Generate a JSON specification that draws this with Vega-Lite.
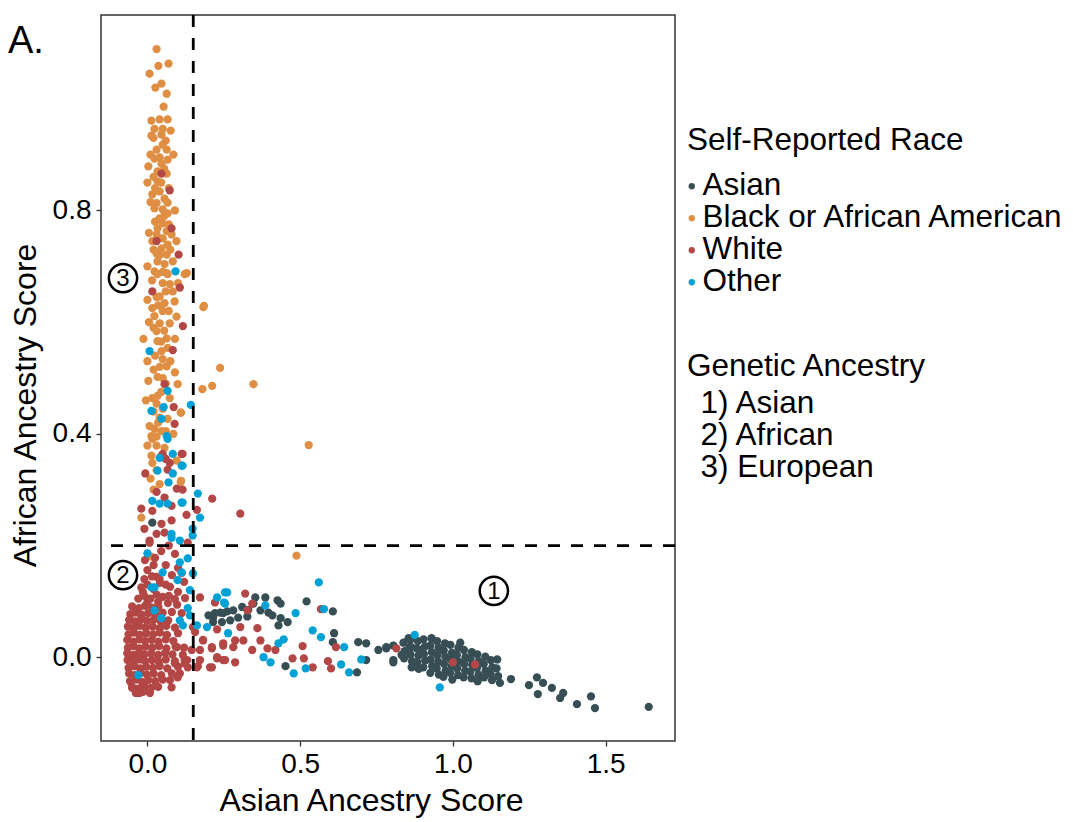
{
  "$schema": "https://vega.github.io/schema/vega-lite/v6.json",
  "width": 574,
  "height": 726,
  "autosize": "none",
  "padding": {"left": 101, "top": 15, "right": 398, "bottom": 81},
  "background": "white",
  "title": {"text": "A.", "anchor": "start", "frame": "group", "font": "Liberation Sans", "fontSize": 38, "fontWeight": "normal", "color": "black", "baseline": "alphabetic", "dx": -93, "dy": 77, "offset": 0},
  "config": {
    "view": {"stroke": "#333333", "strokeWidth": 1.5},
    "axis": {"domain": false, "grid": false, "ticks": true, "tickColor": "#333333", "tickSize": 5, "tickWidth": 1.3, "labelFont": "Liberation Sans", "labelFontSize": 28, "labelColor": "black", "titleFont": "Liberation Sans", "titleFontSize": 32, "titleFontWeight": "normal", "titleColor": "black"},
    "legend": {"titleFont": "Liberation Sans", "labelFont": "Liberation Sans", "titleFontSize": 31.5, "labelFontSize": 31.5, "titleFontWeight": "normal", "titleColor": "black", "labelColor": "black", "symbolSize": 40, "symbolType": "circle", "rowPadding": -1, "titlePadding": 6, "labelLimit": 600, "titleLimit": 600}
  },
  "datasets": {
    "asian": [
      {"x":0.221,"y":0.079},{"x":0.238,"y":0.08},{"x":0.215,"y":0.071},{"x":0.261,"y":0.082},{"x":0.248,"y":0.079},{"x":0.281,"y":0.084},{"x":0.215,"y":0.063},{"x":0.244,"y":0.063},{"x":0.271,"y":0.066},{"x":0.297,"y":0.071},{"x":0.327,"y":0.073},{"x":0.353,"y":0.107},{"x":0.386,"y":0.107},{"x":0.347,"y":0.096},{"x":0.37,"y":0.084},{"x":0.396,"y":0.08},{"x":0.426,"y":0.102},{"x":0.436,"y":0.096},{"x":0.521,"y":0.1},{"x":0.409,"y":0.075},{"x":0.436,"y":0.07},{"x":0.459,"y":0.063},{"x":0.429,"y":0.057},{"x":0.607,"y":0.082},{"x":0.611,"y":0.043},{"x":0.607,"y":0.027},{"x":0.69,"y":0.027},{"x":0.716,"y":0.025},{"x":0.452,"y":-0.016},{"x":0.686,"y":-0.027},{"x":0.716,"y":-0.005},{"x":0.756,"y":0.013},{"x":0.782,"y":0.016},{"x":0.805,"y":0.021},{"x":0.858,"y":0.018},{"x":0.855,"y":0.034},{"x":0.805,"y":-0.005},{"x":0.832,"y":0.004},{"x":0.865,"y":-0.018},{"x":0.898,"y":0.013},{"x":0.016,"y":0.241},{"x":0.31,"y":0.09},{"x":0.33,"y":0.085},{"x":0.2,"y":0.075},{"x":0.782,"y":0.018},{"x":0.805,"y":-0.009},
      {"x":0.838,"y":0.026},{"x":0.842,"y":0.011},{"x":0.84,"y":-0.002},
      {"x":0.86,"y":0.031},{"x":0.864,"y":0.018},{"x":0.861,"y":0.005},{"x":0.866,"y":-0.007},
      {"x":0.885,"y":0.029},{"x":0.882,"y":0.016},{"x":0.887,"y":0.003},{"x":0.883,"y":-0.009},{"x":0.888,"y":-0.021},
      {"x":0.904,"y":0.032},{"x":0.908,"y":0.019},{"x":0.905,"y":0.006},{"x":0.909,"y":-0.006},{"x":0.903,"y":-0.018},
      {"x":0.93,"y":0.034},{"x":0.926,"y":0.021},{"x":0.931,"y":0.009},{"x":0.927,"y":-0.004},{"x":0.932,"y":-0.016},{"x":0.926,"y":-0.028},
      {"x":0.948,"y":0.029},{"x":0.953,"y":0.017},{"x":0.949,"y":0.004},{"x":0.952,"y":-0.008},{"x":0.947,"y":-0.02},{"x":0.954,"y":-0.031},
      {"x":0.974,"y":0.025},{"x":0.97,"y":0.012},{"x":0.975,"y":0.001},{"x":0.971,"y":-0.012},{"x":0.976,"y":-0.024},{"x":0.969,"y":-0.035},
      {"x":0.992,"y":0.022},{"x":0.997,"y":0.008},{"x":0.993,"y":-0.004},{"x":0.996,"y":-0.016},{"x":0.991,"y":-0.028},{"x":0.998,"y":-0.04},
      {"x":1.018,"y":0.017},{"x":1.013,"y":0.004},{"x":1.019,"y":-0.008},{"x":1.014,"y":-0.02},{"x":1.017,"y":-0.032},{"x":1.024,"y":0.026},
      {"x":1.036,"y":0.013},{"x":1.041,"y":0.0},{"x":1.037,"y":-0.012},{"x":1.04,"y":-0.024},{"x":1.035,"y":-0.036},
      {"x":1.062,"y":0.009},{"x":1.058,"y":-0.003},{"x":1.063,"y":-0.014},{"x":1.057,"y":-0.026},{"x":1.061,"y":-0.038},
      {"x":1.08,"y":0.005},{"x":1.085,"y":-0.007},{"x":1.079,"y":-0.019},{"x":1.084,"y":-0.031},{"x":1.081,"y":-0.043},
      {"x":1.106,"y":0.001},{"x":1.101,"y":-0.012},{"x":1.107,"y":-0.024},{"x":1.102,"y":-0.036},
      {"x":1.124,"y":-0.005},{"x":1.129,"y":-0.018},{"x":1.123,"y":-0.03},{"x":1.128,"y":-0.041},
      {"x":1.145,"y":-0.004},{"x":1.143,"y":-0.02},{"x":1.148,"y":-0.034},
      {"x":1.154,"y":-0.046},{"x":1.19,"y":-0.039},{"x":1.249,"y":-0.05},{"x":1.275,"y":-0.036},{"x":1.295,"y":-0.046},{"x":1.324,"y":-0.055},{"x":1.278,"y":-0.066},{"x":1.361,"y":-0.064},{"x":1.351,"y":-0.073},{"x":1.406,"y":-0.084},{"x":1.452,"y":-0.07},{"x":1.465,"y":-0.091},{"x":1.641,"y":-0.089}
    ],
    "black": [
      {"x":0.03,"y":1.089},{"x":0.036,"y":1.059},{"x":0.069,"y":1.063},{"x":0.007,"y":1.045},{"x":0.046,"y":1.027},{"x":0.026,"y":1.02},{"x":0.063,"y":1.009},{"x":0.053,"y":0.986},{"x":0.013,"y":0.961},{"x":0.04,"y":0.963},{"x":0.066,"y":0.963},{"x":0.023,"y":0.946},{"x":0.05,"y":0.946},{"x":0.076,"y":0.943},{"x":0.013,"y":0.934},{"x":0.046,"y":0.936},{"x":0.05,"y":0.918},{"x":0.03,"y":0.909},{"x":0.063,"y":0.909},{"x":0.023,"y":0.893},{"x":0.066,"y":0.891},{"x":0.003,"y":0.879},{"x":0.046,"y":0.884},{"x":0.033,"y":0.87},{"x":0.063,"y":0.866},{"x":0.033,"y":0.852},{"x":0.016,"y":0.829},{"x":0.04,"y":0.834},{"x":0.056,"y":0.821},{"x":0.03,"y":0.813},{"x":0.066,"y":0.814},{"x":0.023,"y":0.804},{"x":0.05,"y":0.802},{"x":0.066,"y":0.795},{"x":0.04,"y":0.786},{"x":0.05,"y":0.777},{"x":0.033,"y":0.768},{"x":0.063,"y":0.763},{"x":0.03,"y":0.757},{"x":0.079,"y":0.757},{"x":0.05,"y":0.75},{"x":0.016,"y":0.745},{"x":0.066,"y":0.739},{"x":0.046,"y":0.732},{"x":0.03,"y":0.723},{"x":0.063,"y":0.721},{"x":0.083,"y":0.709},{"x":0.033,"y":0.709},{"x":0.056,"y":0.704},{"x":0.129,"y":0.688},{"x":0.023,"y":0.691},{"x":0.063,"y":0.688},{"x":0.033,"y":0.686},{"x":0.066,"y":0.686},{"x":0.122,"y":0.686},{"x":0.05,"y":0.67},{"x":0.073,"y":0.668},{"x":0.083,"y":0.655},{"x":0.04,"y":0.646},{"x":0.089,"y":0.637},{"x":0.056,"y":0.634},{"x":0.185,"y":0.629},{"x":0.016,"y":0.625},{"x":0.05,"y":0.62},{"x":0.023,"y":0.611},{"x":0.073,"y":0.598},{"x":0.04,"y":0.598},{"x":0.03,"y":0.584},{"x":0.063,"y":0.571},{"x":-0.013,"y":0.57},{"x":0.033,"y":0.566},{"x":0.046,"y":0.548},{"x":0.066,"y":0.554},{"x":0.05,"y":0.534},{"x":0.063,"y":0.521},{"x":0.238,"y":0.518},{"x":0.033,"y":0.502},{"x":0.05,"y":0.5},{"x":0.003,"y":0.495},{"x":0.099,"y":0.489},{"x":0.016,"y":0.464},{"x":0.033,"y":0.468},{"x":0.073,"y":0.464},{"x":0.03,"y":0.454},{"x":0.109,"y":0.438},{"x":0.04,"y":0.429},{"x":0.066,"y":0.427},{"x":0.007,"y":0.414},{"x":0.023,"y":0.409},{"x":0.046,"y":0.405},{"x":0.013,"y":0.396},{"x":0.016,"y":0.391},{"x":0.0,"y":0.379},{"x":0.03,"y":0.379},{"x":0.056,"y":0.375},{"x":0.013,"y":0.361},{"x":0.016,"y":0.348},{"x":0.096,"y":0.352},{"x":0.109,"y":0.314},{"x":-0.02,"y":0.25},{"x":0.183,"y":0.627},{"x":0.18,"y":0.48},{"x":0.212,"y":0.486},{"x":0.347,"y":0.489},{"x":0.11,"y":0.438},{"x":0.528,"y":0.38},{"x":0.11,"y":0.316},{"x":0.488,"y":0.182},{"x":0.013,"y":0.18},
      {"x":0.02,"y":0.93},{"x":0.06,"y":0.925},{"x":0.01,"y":0.9},{"x":0.04,"y":0.895},{"x":0.055,"y":0.875},{"x":0.02,"y":0.86},{"x":0.045,"y":0.85},{"x":0.07,"y":0.84},{"x":0.025,"y":0.84},{"x":0.01,"y":0.815},{"x":0.055,"y":0.79},{"x":0.025,"y":0.78},{"x":0.07,"y":0.775},{"x":0.02,"y":0.73},{"x":0.04,"y":0.72},{"x":0.075,"y":0.73},{"x":0.05,"y":0.69},{"x":0.015,"y":0.675},{"x":0.06,"y":0.655},{"x":0.03,"y":0.645},{"x":0.07,"y":0.62},{"x":0.035,"y":0.63},{"x":0.02,"y":0.59},{"x":0.055,"y":0.585},{"x":0.045,"y":0.565},{"x":0.025,"y":0.54},{"x":0.04,"y":0.52},{"x":0.02,"y":0.515},{"x":0.075,"y":0.53},{"x":0.06,"y":0.49},{"x":0.045,"y":0.475},{"x":0.02,"y":0.44},{"x":0.05,"y":0.445},{"x":0.035,"y":0.42},{"x":0.06,"y":0.405},{"x":0.03,"y":0.395},{"x":0.045,"y":0.36},{"x":0.03,"y":0.335},{"x":0.01,"y":0.32},{"x":0.04,"y":0.31},{"x":0.02,"y":0.3},
      {"x":0.085,"y":0.9},{"x":0.0,"y":0.85},{"x":0.09,"y":0.8},{"x":0.005,"y":0.76},{"x":0.095,"y":0.745},{"x":0.0,"y":0.7},{"x":0.1,"y":0.67},{"x":0.0,"y":0.64},{"x":0.095,"y":0.61},{"x":0.005,"y":0.6},{"x":0.09,"y":0.57},{"x":0.0,"y":0.53},{"x":0.09,"y":0.51},{"x":-0.005,"y":0.46},{"x":0.085,"y":0.4}
    ],
    "white": [
      {"x":0.046,"y":0.866},{"x":0.073,"y":0.836},{"x":0.079,"y":0.768},{"x":0.03,"y":0.745},{"x":0.102,"y":0.721},{"x":0.016,"y":0.655},{"x":0.106,"y":0.662},{"x":0.116,"y":0.593},{"x":0.083,"y":0.55},{"x":0.056,"y":0.489},{"x":0.086,"y":0.448},{"x":0.089,"y":0.418},{"x":0.05,"y":0.364},{"x":0.112,"y":0.364},{"x":0.073,"y":0.348},{"x":0.066,"y":0.336},{"x":-0.007,"y":0.329},{"x":0.03,"y":0.296},{"x":0.096,"y":0.302},{"x":0.115,"y":0.3},{"x":0.212,"y":0.284},{"x":0.056,"y":0.286},{"x":0.079,"y":0.271},{"x":-0.02,"y":0.266},{"x":0.016,"y":0.262},{"x":0.162,"y":0.264},{"x":0.128,"y":0.255},{"x":0.304,"y":0.257},{"x":0.046,"y":0.239},{"x":0.079,"y":0.245},{"x":-0.01,"y":0.23},{"x":0.03,"y":0.221},{"x":0.056,"y":0.223},{"x":0.007,"y":0.209},{"x":0.132,"y":0.205},{"x":0.115,"y":0.364},{"x":0.06,"y":0.355},
      {"x":0.007,"y":0.205},{"x":-0.008,"y":0.174},{"x":0.025,"y":0.178},{"x":0.0,"y":0.156},{"x":0.03,"y":0.144},{"x":0.08,"y":0.147},{"x":0.112,"y":0.151},{"x":-0.015,"y":0.117},{"x":0.041,"y":0.133},{"x":0.074,"y":0.126},{"x":0.1,"y":0.117},{"x":0.123,"y":0.106},{"x":0.0,"y":0.099},{"x":0.035,"y":0.099},{"x":0.067,"y":0.097},{"x":0.097,"y":0.094},{"x":0.08,"y":0.081},{"x":0.112,"y":0.079},{"x":0.156,"y":0.045},{"x":0.182,"y":0.031},{"x":0.097,"y":0.018},{"x":0.116,"y":0.004},{"x":0.09,"y":-0.011},{"x":0.132,"y":-0.018},{"x":0.106,"y":-0.029},{"x":0.074,"y":-0.041},{"x":0.145,"y":0.013},{"x":0.205,"y":-0.018},{"x":0.172,"y":-0.005},
      {"x":-0.03,"y":0.105},{"x":-0.01,"y":0.11},{"x":0.01,"y":0.105},{"x":0.03,"y":0.112},{"x":0.05,"y":0.108},{"x":0.07,"y":0.11},{"x":0.09,"y":0.104},{"x":-0.02,"y":0.125},{"x":0.0,"y":0.13},{"x":0.02,"y":0.122},{"x":0.06,"y":0.13},{"x":-0.01,"y":0.14},{"x":0.015,"y":0.145},{"x":0.04,"y":0.14},{"x":0.06,"y":0.165},{"x":0.02,"y":0.165},{"x":0.045,"y":0.19},{"x":0.07,"y":0.2},{"x":0.09,"y":0.185},{"x":0.1,"y":0.16},{"x":0.12,"y":0.135},
      {"x":-0.05,"y":0.091},{"x":-0.028,"y":0.088},{"x":-0.008,"y":0.092},{"x":0.015,"y":0.089},{"x":0.036,"y":0.09},
      {"x":-0.056,"y":0.077},{"x":-0.038,"y":0.08},{"x":-0.018,"y":0.076},{"x":0.003,"y":0.079},{"x":0.025,"y":0.077},{"x":0.05,"y":0.08},
      {"x":-0.06,"y":0.067},{"x":-0.042,"y":0.064},{"x":-0.022,"y":0.068},{"x":-0.002,"y":0.065},{"x":0.02,"y":0.067},{"x":0.044,"y":0.064},{"x":0.068,"y":0.066},
      {"x":-0.064,"y":0.055},{"x":-0.045,"y":0.052},{"x":-0.026,"y":0.056},{"x":-0.006,"y":0.053},{"x":0.017,"y":0.055},{"x":0.04,"y":0.052},{"x":0.062,"y":0.056},{"x":0.09,"y":0.053},
      {"x":-0.062,"y":0.041},{"x":-0.044,"y":0.044},{"x":-0.025,"y":0.04},{"x":-0.004,"y":0.043},{"x":0.019,"y":0.041},{"x":0.041,"y":0.044},{"x":0.064,"y":0.04},{"x":0.1,"y":0.043},
      {"x":-0.066,"y":0.031},{"x":-0.047,"y":0.028},{"x":-0.027,"y":0.032},{"x":-0.008,"y":0.029},{"x":0.014,"y":0.031},{"x":0.036,"y":0.028},{"x":0.06,"y":0.032},{"x":0.085,"y":0.029},
      {"x":-0.064,"y":0.017},{"x":-0.045,"y":0.02},{"x":-0.026,"y":0.016},{"x":-0.006,"y":0.019},{"x":0.016,"y":0.017},{"x":0.038,"y":0.02},{"x":0.062,"y":0.016},{"x":0.092,"y":0.019},{"x":0.12,"y":0.017},
      {"x":-0.066,"y":0.007},{"x":-0.047,"y":0.004},{"x":-0.028,"y":0.008},{"x":-0.01,"y":0.005},{"x":0.012,"y":0.007},{"x":0.035,"y":0.004},{"x":0.058,"y":0.008},{"x":0.082,"y":0.005},
      {"x":-0.065,"y":-0.005},{"x":-0.046,"y":-0.008},{"x":-0.027,"y":-0.004},{"x":-0.008,"y":-0.007},{"x":0.015,"y":-0.005},{"x":0.037,"y":-0.008},{"x":0.06,"y":-0.004},{"x":0.09,"y":-0.007},{"x":0.13,"y":-0.005},
      {"x":-0.062,"y":-0.019},{"x":-0.043,"y":-0.016},{"x":-0.024,"y":-0.02},{"x":-0.004,"y":-0.017},{"x":0.018,"y":-0.019},{"x":0.04,"y":-0.016},{"x":0.065,"y":-0.02},{"x":0.1,"y":-0.017},
      {"x":-0.06,"y":-0.029},{"x":-0.041,"y":-0.032},{"x":-0.022,"y":-0.028},{"x":-0.002,"y":-0.031},{"x":0.02,"y":-0.029},{"x":0.045,"y":-0.032},{"x":0.08,"y":-0.029},
      {"x":-0.057,"y":-0.043},{"x":-0.038,"y":-0.04},{"x":-0.018,"y":-0.044},{"x":0.003,"y":-0.041},{"x":0.026,"y":-0.043},{"x":0.05,"y":-0.04},
      {"x":-0.05,"y":-0.053},{"x":-0.03,"y":-0.056},{"x":-0.01,"y":-0.052},{"x":0.012,"y":-0.055},{"x":0.035,"y":-0.053},
      {"x":-0.038,"y":-0.064},{"x":-0.015,"y":-0.062},{"x":0.008,"y":-0.064},
      {"x":0.172,"y":0.107},{"x":0.221,"y":0.098},{"x":0.32,"y":0.114},{"x":0.343,"y":0.096},{"x":0.327,"y":0.084},{"x":0.228,"y":0.05},{"x":0.304,"y":0.054},{"x":0.36,"y":0.052},{"x":0.287,"y":0.03},{"x":0.314,"y":0.03},{"x":0.37,"y":0.03},{"x":0.393,"y":0.016},{"x":0.419,"y":0.013},{"x":0.343,"y":0.013},{"x":0.248,"y":0.021},{"x":0.281,"y":0.018},{"x":0.211,"y":0.016},{"x":0.508,"y":0.02},{"x":0.617,"y":0.018},{"x":0.568,"y":0.086},{"x":0.228,"y":-0.002},{"x":0.248,"y":-0.005},{"x":0.287,"y":-0.009},{"x":0.475,"y":-0.002},{"x":0.512,"y":-0.002},{"x":0.541,"y":-0.018},{"x":0.591,"y":-0.007},{"x":0.601,"y":-0.02},{"x":0.211,"y":-0.018},{"x":0.165,"y":-0.016},{"x":0.122,"y":-0.005},
      {"x":0.149,"y":0.054},{"x":0.182,"y":0.03},{"x":0.211,"y":0.018},{"x":0.248,"y":0.025},{"x":0.172,"y":0.013},{"x":0.228,"y":0.0},{"x":0.162,"y":-0.018},{"x":0.254,"y":-0.005},{"x":0.122,"y":-0.011},{"x":0.099,"y":-0.036},{"x":0.079,"y":-0.054},{"x":-0.026,"y":-0.064},{"x":-0.05,"y":-0.055},{"x":0.007,"y":-0.059},
      {"x":0.815,"y":0.016},{"x":1.0,"y":-0.009},{"x":1.073,"y":-0.013}
    ],
    "other": [
      {"x":0.092,"y":0.691},{"x":0.007,"y":0.548},{"x":0.066,"y":0.477},{"x":0.053,"y":0.448},{"x":0.142,"y":0.452},{"x":0.013,"y":0.441},{"x":0.046,"y":0.427},{"x":0.063,"y":0.396},{"x":0.066,"y":0.391},{"x":0.04,"y":0.357},{"x":0.083,"y":0.364},{"x":0.112,"y":0.343},{"x":0.033,"y":0.334},{"x":0.083,"y":0.329},{"x":0.069,"y":0.313},{"x":0.115,"y":0.343},{"x":0.165,"y":0.293},{"x":0.115,"y":0.277},{"x":0.172,"y":0.25},{"x":0.148,"y":0.23},{"x":0.148,"y":0.218},{"x":0.016,"y":0.28},{"x":0.066,"y":0.275},{"x":0.04,"y":0.275},{"x":0.112,"y":0.277},{"x":0.079,"y":0.221},{"x":0.106,"y":0.209},
      {"x":0.079,"y":0.214},{"x":0.0,"y":0.186},{"x":0.132,"y":0.177},{"x":0.106,"y":0.17},{"x":0.05,"y":0.152},{"x":0.112,"y":0.152},{"x":0.149,"y":0.15},{"x":0.013,"y":0.125},{"x":0.023,"y":0.125},{"x":0.099,"y":0.138},{"x":0.139,"y":0.12},{"x":0.254,"y":0.116},{"x":0.228,"y":0.107},{"x":0.254,"y":0.096},{"x":0.132,"y":0.088},{"x":0.046,"y":0.07},{"x":0.106,"y":0.066},{"x":0.139,"y":0.075},{"x":0.116,"y":0.057},{"x":0.195,"y":0.054},{"x":0.162,"y":0.057},{"x":0.023,"y":0.084},{"x":-0.03,"y":-0.032},
      {"x":0.561,"y":0.134},{"x":0.261,"y":0.116},{"x":0.251,"y":0.098},{"x":0.578,"y":0.086},{"x":0.485,"y":0.079},{"x":0.386,"y":0.093},{"x":0.264,"y":0.043},{"x":0.541,"y":0.048},{"x":0.446,"y":0.032},{"x":0.568,"y":0.036},{"x":0.429,"y":0.025},{"x":0.644,"y":0.018},{"x":0.38,"y":0.0},{"x":0.403,"y":-0.009},{"x":0.7,"y":-0.004},{"x":0.634,"y":-0.013},{"x":0.518,"y":-0.02},{"x":0.479,"y":-0.029},{"x":0.66,"y":-0.027},{"x":0.875,"y":0.04},{"x":0.957,"y":-0.054}
    ],
    "ancestry": [{"g":"1) Asian"},{"g":"2) African"},{"g":"3) European"}],
    "marks": [{"n":"1","x":1.134,"y":0.119},{"n":"2","x":-0.08,"y":0.147},{"n":"3","x":-0.08,"y":0.679}]
  },
  "layer": [
    {"data": {"name": "asian"}, "mark": {"type": "circle", "size": 68, "opacity": 1},
     "encoding": {
       "x": {"field": "x", "type": "quantitative", "scale": {"domain": [-0.152, 1.727], "nice": false, "zero": false},
             "axis": {"title": "Asian Ancestry Score", "values": [0, 0.5, 1, 1.5], "format": ".1f", "labelPadding": 4, "titleX": 270, "titleY": 69, "titleBaseline": "alphabetic", "titleAlign": "center"}},
       "y": {"field": "y", "type": "quantitative", "scale": {"domain": [-0.15, 1.15], "nice": false, "zero": false},
             "axis": {"title": "African Ancestry Score", "values": [0, 0.4, 0.8], "format": ".1f", "labelPadding": 5, "titleX": -66, "titleY": 390, "titleBaseline": "alphabetic", "titleAlign": "center", "titleAngle": -90}},
       "color": {"datum": "Asian", "type": "nominal",
         "scale": {"domain": ["Asian", "Black or African American", "White", "Other"], "range": ["#374E55", "#DF8F44", "#B24745", "#00A1D5"]},
         "legend": {"title": "Self-Reported Race", "orient": "none", "legendX": 586, "legendY": 110, "titlePadding": 14, "symbolOffset": -11, "labelOffset": -5, "symbolOpacity": 1}}}},
    {"data": {"name": "black"}, "mark": {"type": "circle", "size": 68, "opacity": 1},
     "encoding": {"x": {"field": "x", "type": "quantitative"}, "y": {"field": "y", "type": "quantitative"}, "color": {"datum": "Black or African American", "type": "nominal"}}},
    {"data": {"name": "white"}, "mark": {"type": "circle", "size": 68, "opacity": 1},
     "encoding": {"x": {"field": "x", "type": "quantitative"}, "y": {"field": "y", "type": "quantitative"}, "color": {"datum": "White", "type": "nominal"}}},
    {"data": {"name": "other"}, "mark": {"type": "circle", "size": 68, "opacity": 1},
     "encoding": {"x": {"field": "x", "type": "quantitative"}, "y": {"field": "y", "type": "quantitative"}, "color": {"datum": "Other", "type": "nominal"}}},
    {"data": {"name": "ancestry"}, "mark": {"type": "point", "opacity": 0},
     "encoding": {"x": {"datum": 0, "type": "quantitative"}, "y": {"datum": 0, "type": "quantitative"},
       "shape": {"field": "g", "type": "nominal", "legend": {"title": "Genetic Ancestry", "orient": "none", "legendX": 586, "legendY": 336, "symbolOpacity": 0, "symbolSize": 40, "labelOffset": -18, "rowPadding": -1.5}}}},
    {"data": {"values": [{}]}, "mark": {"type": "rule", "strokeDash": [12, 11], "strokeWidth": 2.8, "color": "black"}, "encoding": {"x": {"datum": 0.15, "type": "quantitative"}}},
    {"data": {"values": [{}]}, "mark": {"type": "rule", "strokeDash": [12, 11], "strokeWidth": 2.8, "color": "black"}, "encoding": {"y": {"datum": 0.2, "type": "quantitative"}}},
    {"data": {"name": "marks"}, "mark": {"type": "point", "shape": "circle", "filled": false, "size": 800, "stroke": "black", "strokeWidth": 2.5, "opacity": 1},
     "encoding": {"x": {"field": "x", "type": "quantitative"}, "y": {"field": "y", "type": "quantitative"}}},
    {"data": {"name": "marks"}, "mark": {"type": "text", "font": "Liberation Sans", "fontSize": 24, "color": "black", "align": "center", "baseline": "middle", "dy": 1},
     "encoding": {"x": {"field": "x", "type": "quantitative"}, "y": {"field": "y", "type": "quantitative"}, "text": {"field": "n"}}}
  ]
}
